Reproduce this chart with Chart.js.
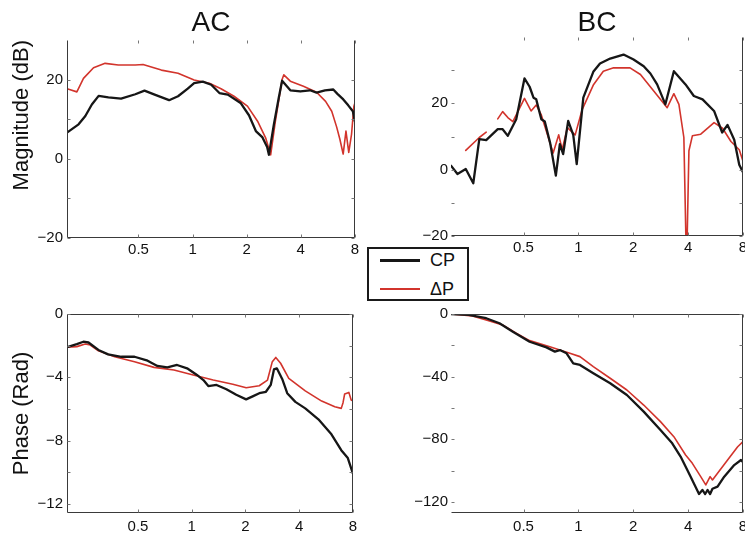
<!DOCTYPE html>
<html>
<head>
<meta charset="utf-8">
<script src="https://cdn.jsdelivr.net/npm/chart.js@4.4.1/dist/chart.umd.min.js"></script>
<style>
  html, body { margin: 0; padding: 0; background: #fff; overflow: hidden; }
  body { width: 745px; height: 536px; position: relative; font-family: "Liberation Sans", Arial, sans-serif; }
  canvas { position: absolute; }
  #legend { position: absolute; left: 367px; top: 247px; width: 98px; height: 50px;
            border: 2px solid #1a1a1a; background: #fff; z-index: 5; }
  #legend .row { position: absolute; left: 0; width: 100%; height: 22px; }
  #legend .swatch { position: absolute; left: 11px; top: 10px; width: 40px; height: 0; }
  #legend .lbl { position: absolute; left: 61px; top: 0; line-height: 22px; font-size: 18px; color: #111; }
</style>
</head>
<body>
<canvas id="acMag" width="362" height="262" style="left:0;top:0"></canvas>
<canvas id="bcMag" width="377" height="262" style="left:380px;top:0"></canvas>
<canvas id="acPhase" width="362" height="236" style="left:0;top:300px"></canvas>
<canvas id="bcPhase" width="377" height="236" style="left:380px;top:300px"></canvas>
<div id="legend"></div>
<script>
// series
const seriesNames = ['CP', '\u0394P'];
const seriesColors = ['#161616', '#d2342c'];
const seriesWidths = [2.3, 1.6];

// axis ticks
const freqTicks = [0.5, 1, 2, 4, 8];
const magTicks = [-20, 0, 20];
const acPhaseTicks = [0, -4, -8, -12];
const bcPhaseTicks = [0, -40, -80, -120];
const acMagMinor = [-10, 10];
const bcMagMinor = [-10, 10, 30];
const acPhaseMinor = [-2, -6, -10];
const bcPhaseMinor = [-20, -60, -100];

// AC magnitude (dB)
const acMagFreqCP = [0.2, 0.232, 0.253, 0.275, 0.30, 0.34, 0.40, 0.48, 0.54, 0.615, 0.74, 0.83, 0.94, 1.02, 1.14, 1.27, 1.41, 1.57, 1.85, 2.06, 2.25, 2.45, 2.6, 2.66, 2.83, 3.02, 3.15, 3.5, 3.98, 4.5, 4.9, 5.46, 6.07, 6.4, 6.9, 7.35, 7.8, 8];
const acMagCP = [6.6, 8.7, 10.8, 13.7, 15.9, 15.5, 15.2, 16.3, 17.2, 16.2, 14.8, 15.8, 17.7, 19.1, 19.5, 18.7, 16.6, 16.2, 14.1, 11.0, 7.0, 5.4, 3.0, 1.0, 8.5, 15.5, 19.7, 17.3, 17.0, 17.3, 16.7, 17.3, 17.5, 16.4, 15.0, 13.5, 12.0, 9.5];
const acMagFreqDP = [0.2, 0.227, 0.247, 0.281, 0.326, 0.386, 0.48, 0.53, 0.67, 0.83, 1.02, 1.24, 1.44, 1.70, 2.02, 2.30, 2.55, 2.72, 2.89, 3.15, 3.22, 3.5, 4.14, 4.9, 5.5, 5.95, 6.34, 6.6, 6.89, 7.14, 7.4, 7.67, 7.9, 8];
const acMagDP = [17.7, 16.9, 20.3, 23.0, 24.1, 23.7, 23.7, 23.8, 22.4, 21.6, 19.9, 19.1, 17.7, 15.8, 13.3, 9.5, 5.3, 1.0, 9.5, 20.0, 21.2, 19.6, 18.3, 16.8, 14.5, 12.0, 8.0, 5.0, 1.2, 7.0, 1.6, 6.2, 13.2, 14.0];

// BC magnitude (dB)
const bcMagFreqCP = [0.2, 0.217, 0.241, 0.265, 0.286, 0.312, 0.361, 0.384, 0.41, 0.456, 0.506, 0.54, 0.567, 0.587, 0.626, 0.654, 0.70, 0.752, 0.791, 0.825, 0.879, 0.937, 0.979, 1.064, 1.207, 1.314, 1.494, 1.768, 2.007, 2.282, 2.483, 2.704, 3.0, 3.34, 3.87, 4.3, 4.8, 5.55, 6.15, 6.58, 7.16, 7.63, 8];
const bcMagCP = [1.2, -1.3, 0.2, -4.1, 9.2, 8.9, 12.2, 12.2, 10.2, 15.2, 27.5, 25.0, 21.7, 21.2, 15.2, 14.5, 8.0, -1.8, 7.7, 4.7, 14.7, 10.5, 1.7, 21.7, 29.5, 32.0, 33.5, 34.7, 33.2, 31.2, 29.0, 25.7, 19.7, 29.7, 25.7, 22.2, 21.2, 17.7, 11.2, 13.5, 9.0, 1.5, -0.8];
const bcMagFreqDP = [0.241, 0.286, 0.312, 0.335, 0.361, 0.384, 0.41, 0.437, 0.506, 0.55, 0.587, 0.626, 0.727, 0.78, 0.815, 0.87, 0.96, 1.05, 1.207, 1.37, 1.56, 1.92, 2.19, 2.59, 3.07, 3.34, 3.56, 3.79, 3.92, 4.04, 4.22, 4.69, 5.55, 6.18, 6.87, 7.63, 8];
const bcMagDP = [5.8, 9.7, 11.3, null, 15.3, 17.5, 15.7, 14.5, 21.5, 17.7, 19.5, 16.5, 5.0, 10.5, 6.0, 12.7, 10.5, 18.2, 25.5, 29.7, 30.7, 30.7, 28.7, 23.7, 18.7, 22.9, 19.7, 9.7, -30, 5.7, 10.2, 10.7, 14.2, 12.5, 8.5, 6.0, 2.5];

// AC phase (rad)
const acPhFreqCP = [0.2, 0.227, 0.247, 0.264, 0.30, 0.34, 0.403, 0.478, 0.566, 0.642, 0.73, 0.828, 0.942, 1.07, 1.163, 1.239, 1.378, 1.565, 1.777, 2.018, 2.196, 2.393, 2.606, 2.773, 2.891, 3.0, 3.215, 3.43, 3.81, 4.33, 5.13, 6.07, 6.89, 7.5, 8];
const acPhCP = [-2.1, -1.9, -1.75, -1.8, -2.27, -2.55, -2.7, -2.7, -2.95, -3.28, -3.37, -3.22, -3.43, -3.85, -4.17, -4.55, -4.48, -4.75, -5.1, -5.39, -5.2, -5.0, -4.91, -4.48, -3.5, -3.43, -4.1, -5.0, -5.55, -5.96, -6.65, -7.6, -8.6, -9.1, -10.06];
const acPhFreqDP = [0.2, 0.227, 0.253, 0.27, 0.30, 0.37, 0.478, 0.615, 0.795, 1.02, 1.32, 1.70, 2.02, 2.39, 2.66, 2.83, 2.96, 3.15, 3.5, 4.33, 5.35, 6.34, 6.89, 7.05, 7.2, 7.6, 7.83, 8];
const acPhDP = [-2.1, -2.06, -1.9, -1.96, -2.32, -2.7, -3.01, -3.37, -3.54, -3.85, -4.17, -4.44, -4.66, -4.53, -4.17, -3.01, -2.74, -3.11, -4.06, -4.85, -5.5, -5.86, -5.96, -5.6, -5.05, -4.95, -5.43, -5.48];

// BC phase (rad)
const bcPhFreqCP = [0.2, 0.25, 0.312, 0.369, 0.437, 0.54, 0.668, 0.743, 0.791, 0.861, 0.937, 1.02, 1.207, 1.494, 1.845, 2.282, 2.82, 3.272, 3.636, 4.129, 4.59, 4.79, 4.96, 5.11, 5.28, 5.44, 5.8, 6.31, 7.16, 7.8, 8];
const bcPhCP = [0, -0.6, -2.7, -5.9, -11.3, -17.7, -21.3, -24.0, -23.0, -25.1, -31.5, -32.5, -37.8, -44.2, -51.7, -62.3, -74.0, -82.5, -91.0, -103.8, -114.9, -112.3, -114.9, -112.3, -114.9, -111.5, -110.2, -103.8, -96.4, -93.2, -94.5];
const bcPhFreqDP = [0.2, 0.262, 0.312, 0.384, 0.456, 0.54, 0.697, 0.791, 0.898, 1.02, 1.207, 1.494, 1.845, 2.282, 2.82, 3.34, 3.874, 4.219, 4.69, 5.0, 5.28, 5.44, 5.8, 6.585, 7.48, 8];
const bcPhDP = [0, -1.3, -3.8, -7.0, -12.3, -17.0, -20.9, -23.0, -25.1, -27.2, -33.6, -41.0, -48.5, -58.1, -68.7, -78.3, -90.0, -95.3, -103.8, -109.1, -103.8, -105.9, -101.7, -93.2, -84.7, -81.5];

Chart.defaults.font.family = "'Liberation Sans', Arial, sans-serif";
Chart.defaults.color = '#111';

function pts(fs, vs) {
    return fs.map(function(f, i) { return { x: f, y: vs[i] }; });
}

function fmt(v) {
    return String(v).replace('-', '\u2212');
}

// axes box (only some sides drawn) plus short inward tick marks
var framePlugin = {
    id: 'frame',
    afterDatasetsDraw: function(chart, args, opts) {
        var ctx = chart.ctx, a = chart.chartArea, x = chart.scales.x, y = chart.scales.y;
        var L = Math.round(a.left) + 0.5, R = Math.round(a.right) - 0.5;
        var T = Math.round(a.top) + 0.5, B = Math.round(a.bottom) - 0.5;
        var s = opts.sides;
        ctx.save();
        ctx.lineWidth = 1;
        ctx.strokeStyle = '#3a3a3a';
        ctx.beginPath();
        if (s.indexOf('top') >= 0) { ctx.moveTo(L, T); ctx.lineTo(R, T); }
        if (s.indexOf('bottom') >= 0) { ctx.moveTo(L, B); ctx.lineTo(R, B); }
        if (s.indexOf('left') >= 0) { ctx.moveTo(L, T); ctx.lineTo(L, B); }
        if (s.indexOf('right') >= 0) { ctx.moveTo(R, T); ctx.lineTo(R, B); }
        ctx.stroke();
        ctx.strokeStyle = '#777';
        ctx.beginPath();
        freqTicks.forEach(function(v) {
            var px = Math.round(x.getPixelForValue(v)) + 0.5;
            ctx.moveTo(px, T); ctx.lineTo(px, T + 3);
            ctx.moveTo(px, B); ctx.lineTo(px, B - 3);
        });
        y.ticks.map(function(t) { return t.value; }).concat(opts.minor).forEach(function(v) {
            var py = Math.round(y.getPixelForValue(v)) + 0.5;
            ctx.moveTo(L, py); ctx.lineTo(L + 3, py);
            ctx.moveTo(R, py); ctx.lineTo(R - 3, py);
        });
        ctx.stroke();
        ctx.restore();
    }
};

function makePanel(id, p) {
    return new Chart(document.getElementById(id), {
        type: 'line',
        data: {
            datasets: [
                { label: seriesNames[0], data: pts(p.fCP, p.vCP), borderColor: seriesColors[0], borderWidth: seriesWidths[0] },
                { label: seriesNames[1], data: pts(p.fDP, p.vDP), borderColor: seriesColors[1], borderWidth: seriesWidths[1] }
            ]
        },
        options: {
            responsive: false,
            animation: false,
            spanGaps: false,
            layout: { padding: p.pad },
            elements: {
                point: { radius: 0 },
                line: { tension: 0, borderJoinStyle: 'round', borderCapStyle: 'round' }
            },
            plugins: {
                legend: { display: false },
                tooltip: { enabled: false },
                title: {
                    display: !!p.title,
                    text: p.title,
                    fullSize: false,
                    color: '#111',
                    font: { size: 28, weight: 'normal', lineHeight: 1 },
                    padding: { top: 9, bottom: p.titleGap || 0 }
                },
                frame: { sides: p.sides, minor: p.minor }
            },
            scales: {
                x: {
                    type: 'logarithmic',
                    min: 0.2,
                    max: 8,
                    bounds: 'data',
                    grid: { display: false, drawTicks: false },
                    border: { display: false },
                    ticks: {
                        autoSkip: false,
                        maxRotation: 0,
                        padding: p.xPad,
                        font: { size: 15 },
                        callback: function(v) { return String(v); }
                    },
                    afterBuildTicks: function(s) { s.ticks = freqTicks.map(function(v) { return { value: v }; }); },
                    afterFit: function(s) { s.height = p.xH; }
                },
                y: {
                    min: p.yMin,
                    max: p.yMax,
                    bounds: 'data',
                    grid: { display: false, drawTicks: false },
                    border: { display: false },
                    ticks: {
                        padding: p.yPad,
                        font: { size: 15 },
                        callback: function(v) { return fmt(v); }
                    },
                    afterBuildTicks: function(s) { s.ticks = p.yTicks.map(function(v) { return { value: v }; }); },
                    afterFit: function(s) { s.width = p.yW; },
                    title: {
                        display: !!p.yTitle,
                        text: p.yTitle,
                        color: '#111',
                        align: p.yAlign || 'center',
                        font: { size: 22 },
                        padding: { top: 9, bottom: 0 }
                    }
                }
            }
        },
        plugins: [framePlugin]
    });
}

makePanel('acMag', {
    title: 'AC', titleGap: 3, yTitle: 'Magnitude (dB)', yAlign: 'end',
    fCP: acMagFreqCP, vCP: acMagCP, fDP: acMagFreqDP, vDP: acMagDP,
    yMin: -20, yMax: 30, yTicks: magTicks, minor: acMagMinor,
    pad: { top: 0, right: 7, bottom: 0, left: 0 }, yW: 67, xH: 24, xPad: 3, yPad: 4,
    sides: ['left', 'right', 'bottom']
});
makePanel('bcMag', {
    title: 'BC', titleGap: 0,
    fCP: bcMagFreqCP, vCP: bcMagCP, fDP: bcMagFreqDP, vDP: bcMagDP,
    yMin: -20, yMax: 40, yTicks: magTicks, minor: bcMagMinor,
    pad: { top: 0, right: 14, bottom: 0, left: 0 }, yW: 71, xH: 26, xPad: 3, yPad: 3,
    sides: ['right', 'bottom']
});
makePanel('acPhase', {
    yTitle: 'Phase (Rad)',
    fCP: acPhFreqCP, vCP: acPhCP, fDP: acPhFreqDP, vDP: acPhDP,
    yMin: -4 * Math.PI, yMax: 0, yTicks: acPhaseTicks, minor: acPhaseMinor,
    pad: { top: 14, right: 6, bottom: 0, left: 0 }, yW: 67, xH: 23, xPad: 5, yPad: 4,
    sides: ['top', 'left', 'right', 'bottom']
});
makePanel('bcPhase', {
    fCP: bcPhFreqCP, vCP: bcPhCP, fDP: bcPhFreqDP, vDP: bcPhDP,
    yMin: -127, yMax: 0, yTicks: bcPhaseTicks, minor: bcPhaseMinor,
    pad: { top: 14, right: 14, bottom: 0, left: 0 }, yW: 71, xH: 23, xPad: 5, yPad: 3,
    sides: ['top', 'right', 'bottom']
});

// legend built from the series definitions
var legend = document.getElementById('legend');
seriesNames.forEach(function(name, i) {
    var row = document.createElement('div');
    row.className = 'row';
    row.style.top = (i * 29) + 'px';
    var sw = document.createElement('span');
    sw.className = 'swatch';
    sw.style.borderTop = (i === 0 ? 3 : 2) + 'px solid ' + seriesColors[i];
    var lbl = document.createElement('span');
    lbl.className = 'lbl';
    lbl.textContent = name;
    row.appendChild(sw);
    row.appendChild(lbl);
    legend.appendChild(row);
});
</script>
</body>
</html>
